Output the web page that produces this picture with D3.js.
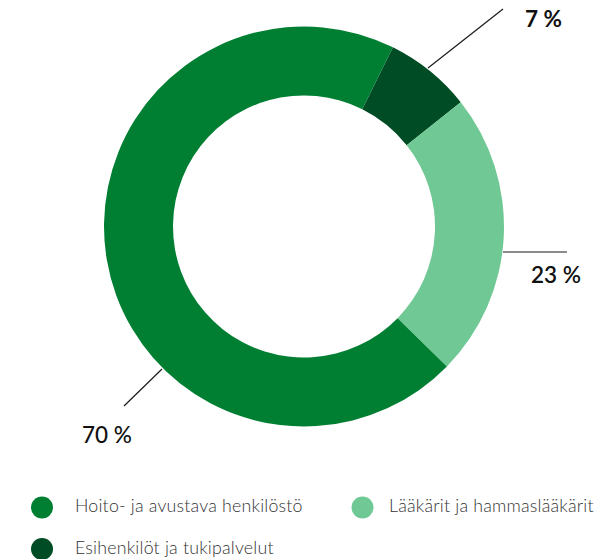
<!DOCTYPE html>
<html lang="fi">
<head>
<meta charset="UTF-8">
<title>Henkilöstö</title>
<script src="https://d3js.org/d3.v7.min.js"></script>
<style>
  body { margin: 0; padding: 0; background: #fff; }
  svg { display: block; }
</style>
</head>
<body>
<svg id="chart"></svg>
<script>
  // data (legend order)
  let categories = ["Hoito- ja avustava henkilöstö", "Lääkärit ja hammaslääkärit", "Esihenkilöt ja tukipalvelut"]
  let values = [70, 23, 7]
  let labels = ["70 %", "23 %", "7 %"]
  let colors = ["#007f33", "#70c994", "#004d25"]
  // order the slices go round the ring, clockwise from the start angle
  let sliceOrder = [2, 1, 0]

  let w = 615, h = 559
  let cx = 304, cy = 226.5
  let rOut = 200, rIn = 131
  let start = 26.4 * Math.PI / 180

  let svg = d3.select("#chart").attr("width", w).attr("height", h)

  let slices = sliceOrder.map(i => ({i: i, v: values[i]}))
  let pie = d3.pie().sort(null).value(d => d.v)
      .startAngle(start).endAngle(start + 2 * Math.PI)
  let arc = d3.arc().innerRadius(rIn).outerRadius(rOut)

  let g = svg.append("g").attr("transform", `translate(${cx},${cy})`)
  g.selectAll("path")
    .data(pie(slices))
    .enter().append("path")
    .attr("d", arc)
    .attr("fill", d => colors[d.data.i])

  // leader lines + labels (hand placed like in the original)
  let font = "Lato, 'Open Sans', sans-serif"
  let lines = [
    {i: 2, x1: 428, y1: 68, x2: 503, y2: 9, tx: 525, ty: 27, wt: 700},
    {i: 1, x1: 503, y1: 252, x2: 567, y2: 252, tx: 531, ty: 283, wt: 600},
    {i: 0, x1: 162, y1: 369, x2: 124, y2: 406, tx: 82, ty: 443, wt: 500}
  ]
  svg.selectAll("line.lead").data(lines).enter().append("line")
    .attr("class", "lead")
    .attr("x1", d => d.x1).attr("y1", d => d.y1)
    .attr("x2", d => d.x2).attr("y2", d => d.y2)
    .attr("stroke", "#1a1a1a").attr("stroke-width", 1.2)
  svg.selectAll("text.lab").data(lines).enter().append("text")
    .attr("class", "lab")
    .attr("x", d => d.tx).attr("y", d => d.ty)
    .attr("font-family", font).attr("font-size", 22.5).attr("font-weight", d => d.wt)
    .attr("fill", "#111")
    .text(d => labels[d.i])

  // legend
  let legPos = [[42, 507.5, 33], [362.5, 507.5, 26.5], [42, 549, 33]]
  let leg = svg.selectAll("g.leg").data(categories).enter().append("g")
    .attr("class", "leg")
    .attr("transform", (d, i) => `translate(${legPos[i][0]},${legPos[i][1]})`)
  leg.append("circle").attr("r", 11).attr("fill", (d, i) => colors[i])
  leg.append("text")
    .attr("x", (d, i) => legPos[i][2]).attr("y", 4.5)
    .attr("font-family", font).attr("font-size", 17.8).attr("font-weight", 300)
    .attr("letter-spacing", 0.2)
    .attr("fill", "#333")
    .text(d => d)
</script>
</body>
</html>
